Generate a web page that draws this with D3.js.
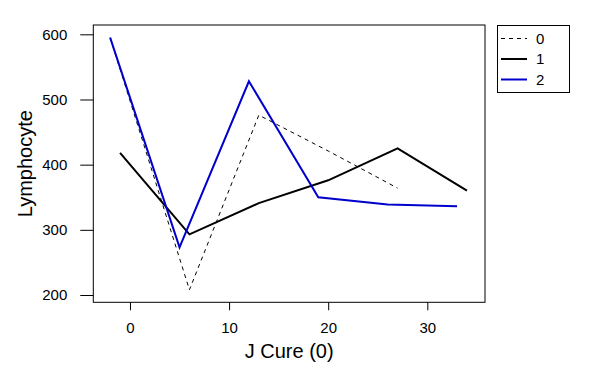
<!DOCTYPE html>
<html><head><meta charset="utf-8">
<script src="https://cdn.jsdelivr.net/npm/d3@7"></script>
<style>body{margin:0;background:#fff}svg{display:block}text{font-family:"Liberation Sans",Arial,sans-serif}</style>
</head><body><svg id="c" width="596" height="381"></svg>
<script>
const seriesNames = ["0", "1", "2"];
const seriesColors = ["#000000", "#000000", "#0000cc"];
const seriesWidths = [1, 2, 2];
const seriesDash = ["4,4", null, null];
const x0 = [-2, 6, 13, 20, 27];
const y0 = [595, 208, 476, 421, 364];
const x1 = [-1, 6, 13, 20, 27, 34];
const y1 = [418, 293, 341, 376, 425, 360];
const x2 = [-2, 5, 12, 19, 26, 33];
const y2 = [595, 273, 528, 350, 339, 336];
const xTicks = [0, 10, 20, 30];
const yTicks = [200, 300, 400, 500, 600];
const xLabel = "J Cure (0)";
const yLabel = "Lymphocyte";

const svg = d3.select("#c");
const L = 93.3, R = 485, T = 25, B = 302.3;
const x = d3.scaleLinear().domain([-3.70, 35.82]).range([L, R]);
const y = d3.scaleLinear().domain([188.8, 614.3]).range([B, T]);
const FF = '"Liberation Sans",Arial,sans-serif';

const data = [x0.map((d,i)=>[d,y0[i]]), x1.map((d,i)=>[d,y1[i]]), x2.map((d,i)=>[d,y2[i]])];
const line = d3.line().x(d=>x(d[0])).y(d=>y(d[1]));
data.forEach((s,i)=>{
  svg.append("path").attr("d", line(s)).attr("fill","none")
    .attr("stroke", seriesColors[i]).attr("stroke-width", seriesWidths[i])
    .attr("stroke-dasharray", seriesDash[i]).attr("stroke-linejoin","miter");
});

svg.append("rect").attr("x",L).attr("y",T).attr("width",R-L).attr("height",B-T)
  .attr("fill","none").attr("stroke","#000").attr("stroke-width",1);

const xa = svg.append("g").attr("transform",`translate(0,${B})`)
  .call(d3.axisBottom(x).tickValues(xTicks).tickSize(8).tickPadding(12).tickFormat(d3.format("d")));
xa.select(".domain").remove();
xa.selectAll("text").attr("font-size",15).attr("fill","#000").attr("font-family",FF);
const ya = svg.append("g").attr("transform",`translate(${L},0)`)
  .call(d3.axisLeft(y).tickValues(yTicks).tickSize(13).tickPadding(13).tickFormat(d3.format("d")));
ya.select(".domain").remove();
ya.selectAll("text").attr("font-size",15).attr("fill","#000").attr("font-family",FF);

svg.append("text").attr("x",(L+R)/2).attr("y",358).attr("text-anchor","middle")
  .attr("font-size",20).text(xLabel);
svg.append("text").attr("transform",`translate(32,${(T+B)/2}) rotate(-90)`).attr("text-anchor","middle")
  .attr("font-size",20).text(yLabel);

const lg = svg.append("g");
lg.append("rect").attr("x",497.5).attr("y",25.5).attr("width",72).attr("height",67)
  .attr("fill","#fff").attr("stroke","#000");
const rows = [38.5, 59, 79.5];
seriesNames.forEach((n,i)=>{
  lg.append("line").attr("x1",501).attr("x2",527).attr("y1",rows[i]).attr("y2",rows[i])
    .attr("stroke",seriesColors[i]).attr("stroke-width",seriesWidths[i]).attr("stroke-dasharray",seriesDash[i]);
  lg.append("text").attr("x",536).attr("y",rows[i]).attr("dy","0.36em").attr("font-size",15).text(n);
});
</script></body></html>
